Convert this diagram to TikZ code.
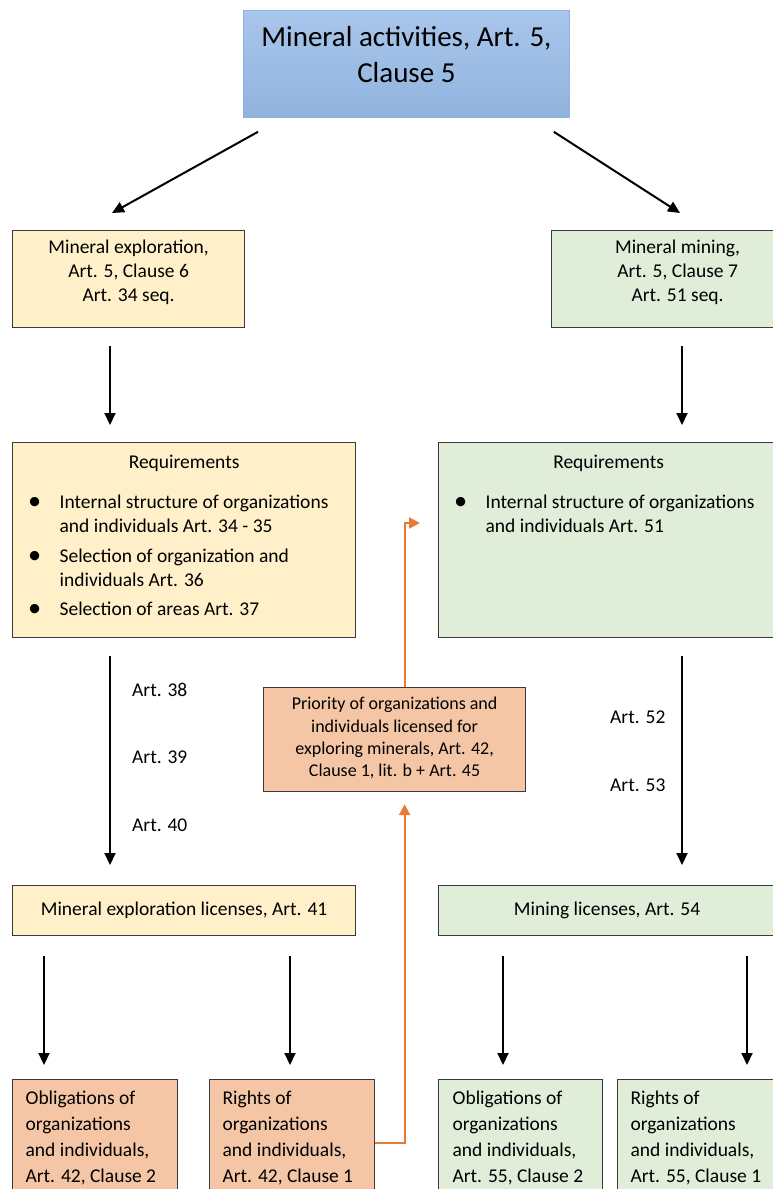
\documentclass[tikz,border=0pt]{standalone}
\usepackage{fontspec}
\setmainfont{Carlito}
\usetikzlibrary{arrows.meta}
\definecolor{boxline}{HTML}{3A3A3A}
\definecolor{yel}{HTML}{FFF0C9}
\definecolor{grn}{HTML}{E0EDD8}
\definecolor{sal}{HTML}{F5C6A6}
\definecolor{blutop}{HTML}{A9C6EB}
\definecolor{blubot}{HTML}{90B3DE}
\definecolor{bluline}{HTML}{8DB3E2}
\definecolor{org}{HTML}{E97A35}
\newcommand\fA{\fontsize{19.5}{24}\selectfont}
\newcommand\fT{\fontsize{29}{36}\selectfont}
\newcommand\fP{\fontsize{18}{22.3}\selectfont}
\newcommand\fB{\fontsize{19.5}{26}\selectfont}
\newcommand\bx[5]{\parbox[c][#1][t]{#2}{#3\vspace*{#4}#5}}
\newcommand\bitem[1]{\noindent\hangindent=34pt\hangafter=1\makebox[34pt][l]{\hspace{2.5pt}\raisebox{-1.2pt}{\scalebox{1.35}{\textbullet}}}#1\par}
\begin{document}
\begin{tikzpicture}[x=1pt, y=-1pt,
  box/.style={draw=boxline, line width=1.2pt, inner sep=0pt, anchor=north west},
  arr/.style={line width=2pt, -{Triangle[length=12pt,width=11pt]}},
  oarr/.style={draw=org, line width=2.2pt, -{Triangle[length=11pt,width=11pt]}},
  lbl/.style={font=\fA, anchor=west, inner sep=0pt}]
\useasboundingbox (0,0) rectangle (773,1189);
\fill[white] (0,0) rectangle (773,1189);

\node[box, draw=bluline, line width=0.8pt, top color=blutop, bottom color=blubot] (top) at (243,10)
  {\bx{107pt}{326pt}{\fT}{10.8pt}{\centering\strut Mineral activities, Art. 5,\\ Clause 5}};

\node[box, fill=yel] (expl) at (12,230)
  {\bx{97pt}{232pt}{\fA}{6pt}{\centering\strut Mineral exploration,\\ Art. 5, Clause 6\\ Art. 34 seq.}};
\node[box, fill=grn] (mine) at (551,230)
  {\bx{97pt}{252pt}{\fA}{6pt}{\centering\strut Mineral mining,\\ Art. 5, Clause 7\\ Art. 51 seq.}};

\node[box, fill=yel] (reqL) at (12,442)
  {\bx{195pt}{343pt}{\fA}{9pt}{\centering\strut Requirements\par
   \raggedright\leftskip=13pt\vspace{16pt}
   \bitem{Internal structure of organizations and individuals Art. 34 - 35}\vspace{6pt}
   \bitem{Selection of organization and individuals Art. 36}\vspace{5pt}
   \bitem{Selection of areas Art. 37}}};
\node[box, fill=grn] (reqR) at (438,442)
  {\bx{195pt}{340pt}{\fA}{9pt}{\centering\strut Requirements\par
   \raggedright\leftskip=13pt\vspace{16pt}
   \bitem{Internal structure of organizations and individuals Art. 51}}};

\node[box, fill=sal] (prio) at (263,687)
  {\bx{104pt}{262pt}{\fP}{6.6pt}{\centering\strut Priority of organizations and\\ individuals licensed for\\ exploring minerals, Art. 42,\\ Clause 1, lit. b + Art. 45}};

\node[box, fill=yel] (licL) at (12,885)
  {\bx{50pt}{343pt}{\fA}{13pt}{\centering\strut Mineral exploration licenses, Art. 41}};
\node[box, fill=grn] (licR) at (438,885)
  {\bx{50pt}{337pt}{\fA}{13pt}{\centering\strut Mining licenses, Art. 54}};

\node[box, fill=sal] (oblL) at (12,1079)
  {\bx{120pt}{165pt}{\fB}{7pt}{\raggedright\leftskip=13pt\strut Obligations of\\ organizations\\ and individuals,\\ Art. 42, Clause 2}};
\node[box, fill=sal] (rigL) at (209,1079)
  {\bx{120pt}{165pt}{\fB}{7pt}{\raggedright\leftskip=13pt\strut Rights of\\ organizations\\ and individuals,\\ Art. 42, Clause 1}};
\node[box, fill=grn] (oblR) at (438,1079)
  {\bx{120pt}{164pt}{\fB}{7pt}{\raggedright\leftskip=14pt\strut Obligations of\\ organizations\\ and individuals,\\ Art. 55, Clause 2}};
\node[box, fill=grn] (rigR) at (617,1079)
  {\bx{120pt}{170pt}{\fB}{7pt}{\raggedright\leftskip=13pt\strut Rights of\\ organizations\\ and individuals,\\ Art. 55, Clause 1}};

\node[lbl] (a38) at (132,690) {Art. 38};
\node[lbl] (a39) at (132,757) {Art. 39};
\node[lbl] (a40) at (132,825) {Art. 40};
\node[lbl] (a52) at (610,717) {Art. 52};
\node[lbl] (a53) at (610,785) {Art. 53};

\draw[arr] ([xshift=15pt,yshift=-14pt]top.south west) -- ([xshift=100pt,yshift=17pt]expl.north west);
\draw[arr] ([xshift=-16pt,yshift=-14pt]top.south east) -- ([xshift=129pt,yshift=17pt]mine.north west);
\draw[arr] ([xshift=98pt,yshift=-18pt]expl.south west) -- ([xshift=98pt,yshift=17pt]reqL.north west);
\draw[arr] ([xshift=131pt,yshift=-18pt]mine.south west) -- ([xshift=244pt,yshift=17pt]reqR.north west);
\draw[arr] ([xshift=98pt,yshift=-18pt]reqL.south west) -- ([xshift=98pt,yshift=20pt]licL.north west);
\draw[arr] ([xshift=244pt,yshift=-18pt]reqR.south west) -- ([xshift=244pt,yshift=20pt]licR.north west);
\draw[arr] ([xshift=32pt,yshift=-20pt]licL.south west) -- ([xshift=32pt,yshift=14pt]oblL.north west);
\draw[arr] ([xshift=278pt,yshift=-20pt]licL.south west) -- ([xshift=81pt,yshift=14pt]rigL.north west);
\draw[arr] ([xshift=65pt,yshift=-20pt]licR.south west) -- ([xshift=65pt,yshift=14pt]oblR.north west);
\draw[arr] ([xshift=309pt,yshift=-20pt]licR.south west) -- ([xshift=130pt,yshift=14pt]rigR.north west);

\draw[oarr] ([yshift=-64pt]rigL.north east) -| ([xshift=10pt,yshift=-12pt]prio.south);
\draw[oarr] ([xshift=10pt]prio.north) |- ([xshift=-18pt,yshift=-81pt]reqR.north west);
\end{tikzpicture}
\end{document}
